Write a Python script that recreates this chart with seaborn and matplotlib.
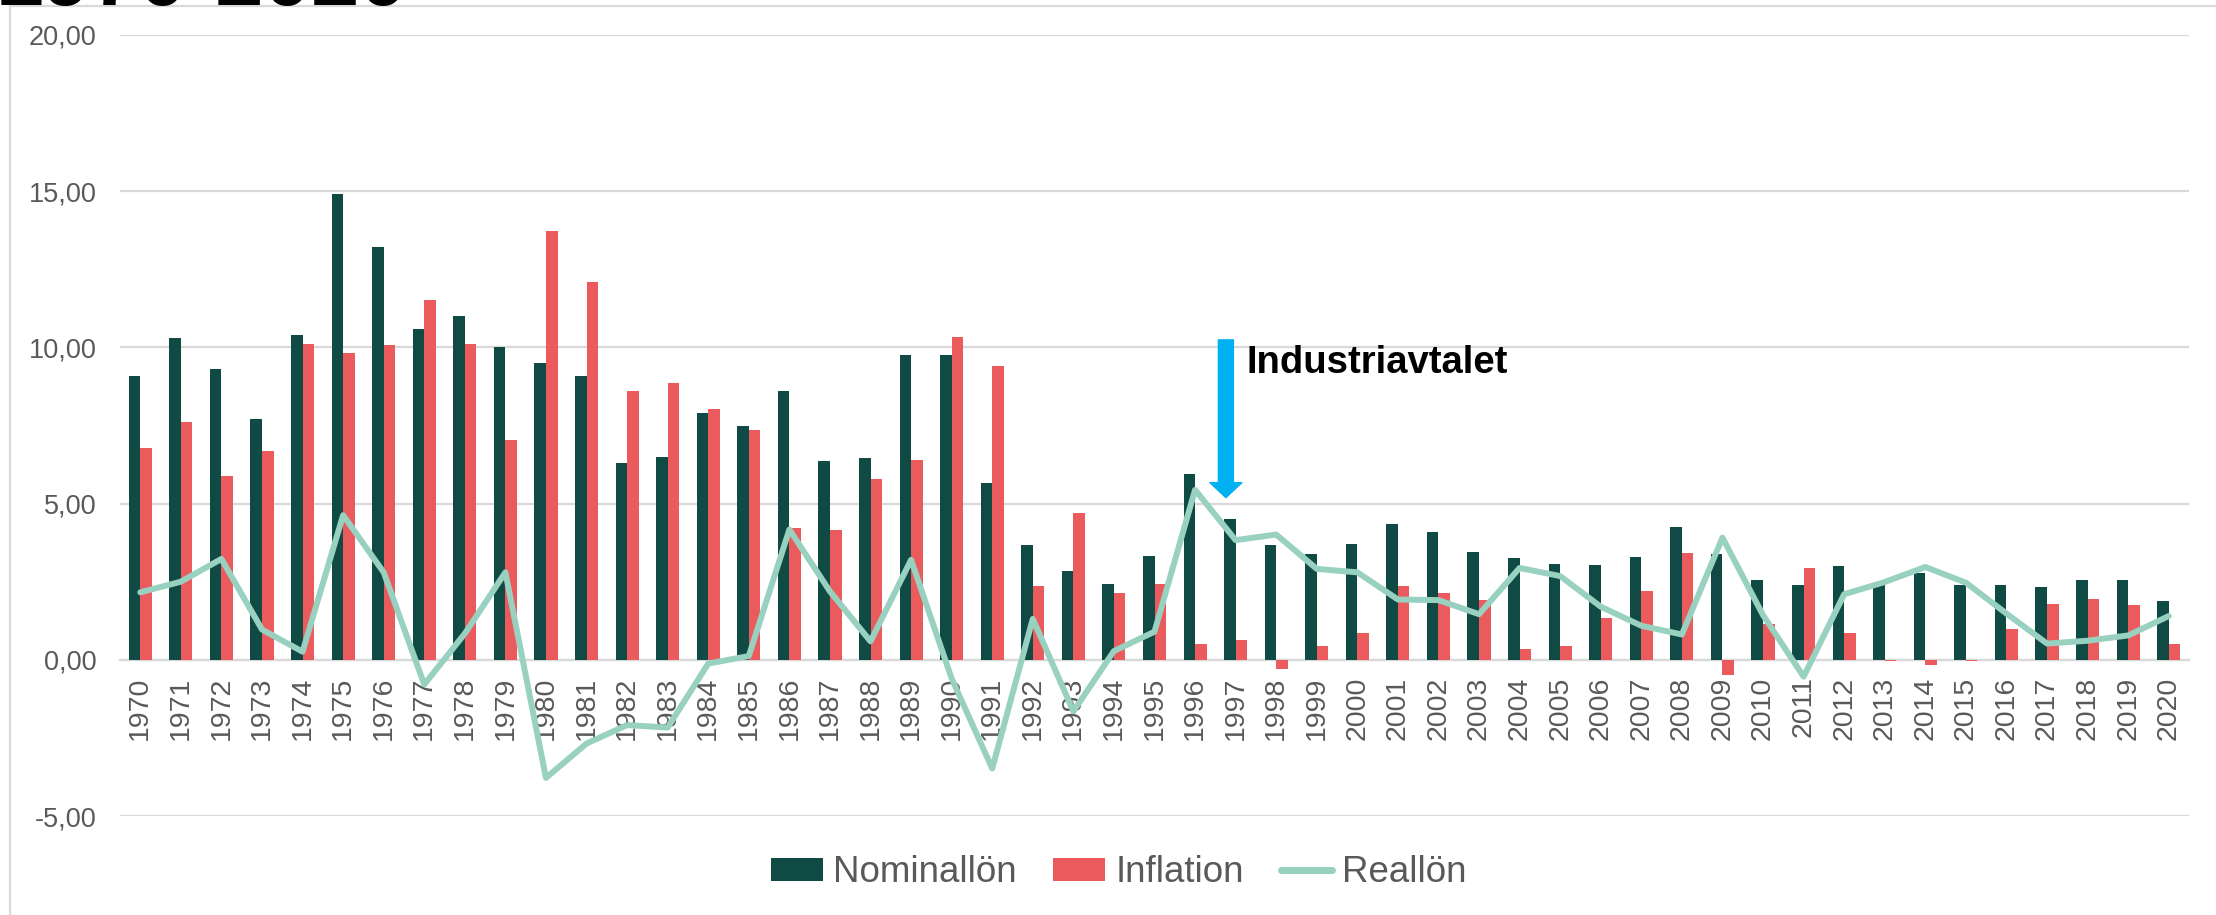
import numpy as np
import pandas as pd
import matplotlib
matplotlib.use("Agg")
import matplotlib.pyplot as plt
import seaborn as sns
from matplotlib.patches import Patch, Rectangle, FancyArrowPatch
from matplotlib.lines import Line2D
from matplotlib.ticker import FuncFormatter, MultipleLocator

# ---------------- data ----------------
years = [str(y) for y in range(1970, 2021)]

nominal = [9.10, 10.30, 9.31, 7.70, 10.39, 14.90, 13.20, 10.60, 11.00, 10.00,
           9.51, 9.10, 6.29, 6.49, 7.90, 7.49, 8.59, 6.37, 6.46, 9.75,
           9.75, 5.67, 3.67, 2.85, 2.42, 3.32, 5.96, 4.52, 3.69, 3.40,
           3.72, 4.36, 4.08, 3.44, 3.27, 3.08, 3.05, 3.29, 4.26, 3.40,
           2.55, 2.40, 2.99, 2.44, 2.77, 2.40, 2.39, 2.32, 2.54, 2.54,
           1.89]

inflation = [6.78, 7.61, 5.89, 6.67, 10.11, 9.81, 10.09, 11.51, 10.10, 7.03,
             13.74, 12.09, 8.59, 8.86, 8.02, 7.36, 4.22, 4.16, 5.80, 6.41,
             10.34, 9.42, 2.35, 4.71, 2.14, 2.43, 0.50, 0.64, -0.28, 0.44,
             0.87, 2.37, 2.14, 1.90, 0.36, 0.44, 1.34, 2.20, 3.42, -0.49,
             1.14, 2.94, 0.87, -0.05, -0.18, -0.05, 0.97, 1.78, 1.94, 1.77,
             0.49]

real = [2.16, 2.50, 3.23, 0.97, 0.26, 4.63, 2.80, -0.79, 0.84, 2.80,
        -3.78, -2.68, -2.09, -2.17, -0.12, 0.12, 4.17, 2.19, 0.59, 3.20,
        -0.60, -3.48, 1.31, -1.65, 0.28, 0.90, 5.44, 3.83, 4.01, 2.91,
        2.80, 1.93, 1.91, 1.46, 2.94, 2.68, 1.70, 1.09, 0.81, 3.91,
        1.43, -0.54, 2.10, 2.49, 2.97, 2.47, 1.48, 0.52, 0.61, 0.78,
        1.40]

series_names = ["Nominallön", "Inflation", "Reallön"]
annotation_text = "Industriavtalet"
title_text = "1970-2020"

# ---------------- style ----------------
DARK = "#0F4A45"
RED = "#EB5A5C"
MINT = "#98D1BF"
BLUE = "#00B0F0"
GRAY_TXT = "#595959"
GRID = "#D9D9D9"

sns.set_theme(style="white")
plt.rcParams["font.family"] = ["Liberation Sans", "DejaVu Sans"]

W, H = 2216, 915
fig = plt.figure(figsize=(W / 100, H / 100), dpi=100)
fig.patch.set_facecolor("white")

ax_left, ax_right, ax_top, ax_bottom = 120, 2189, 35, 816
ax = fig.add_axes([ax_left / W, (H - ax_bottom) / H,
                   (ax_right - ax_left) / W, (ax_bottom - ax_top) / H])

df = pd.DataFrame({"År": years, series_names[0]: nominal, series_names[1]: inflation})
df_long = df.melt(id_vars="År", var_name="Serie", value_name="Procent")

sns.barplot(data=df_long, x="År", y="Procent", hue="Serie",
            hue_order=series_names[:2], palette=[DARK, RED],
            width=0.57, saturation=1, linewidth=0, ax=ax, legend=False,
            zorder=2)

sns.lineplot(x=np.arange(len(years)), y=real, color=MINT, linewidth=4.3,
             ax=ax, legend=False, zorder=3)

ax.set_xlim(-0.5, len(years) - 0.5)
ax.set_ylim(-5, 20)
ax.yaxis.set_major_locator(MultipleLocator(5))
ax.yaxis.set_major_formatter(FuncFormatter(lambda v, p: f"{v:.2f}".replace(".", ",")))
ax.set_xlabel("")
ax.set_ylabel("")
ax.grid(False)
ax.yaxis.grid(True, color=GRID, linewidth=1.6)
ax.set_axisbelow(True)
for name, s in ax.spines.items():
    s.set_visible(False)
# category axis crosses at zero, as in the original
ax.spines["bottom"].set_position(("data", 0))
ax.spines["bottom"].set_visible(True)
ax.spines["bottom"].set_color(GRID)
ax.spines["bottom"].set_linewidth(1.6)
ax.spines["bottom"].set_zorder(1)
ax.tick_params(axis="y", length=0, pad=17, labelsize=19.5, labelcolor=GRAY_TXT)
ax.tick_params(axis="x", length=0, pad=12, labelsize=20.5, labelcolor=GRAY_TXT,
               labelrotation=90)

# ---------------- annotation ----------------
arrow_x = 26.76
arrow = FancyArrowPatch((arrow_x, 10.24), (arrow_x, 5.19),
                        arrowstyle="simple,head_length=0.47,head_width=1.0,tail_width=0.47",
                        mutation_scale=23, color=BLUE, shrinkA=0, shrinkB=0, zorder=4)
ax.add_patch(arrow)
ax.text(27.28, 9.19, annotation_text, fontsize=27.5, fontweight="bold",
        color="black", ha="left", va="baseline", zorder=4)

# ---------------- legend ----------------
handles = [Patch(facecolor=DARK, edgecolor="none"),
           Patch(facecolor=RED, edgecolor="none"),
           Line2D([0], [0], color=MINT, linewidth=5, solid_capstyle="round")]
fig.legend(handles, series_names, loc="center", bbox_to_anchor=(1119 / W, 42 / H),
           ncol=3, frameon=False, fontsize=26.5, handlelength=1.4,
           handleheight=0.55, handletextpad=0.28, columnspacing=1.0,
           labelcolor=GRAY_TXT)

# ---------------- frame & cut-off title ----------------
fig.add_artist(Rectangle((10 / W, -0.1), 1.5, (H - 6) / H + 0.1,
                         transform=fig.transFigure, fill=False,
                         edgecolor=GRID, linewidth=1.6, zorder=0))
fig.text(-4 / W, (H - 5) / H, title_text, fontsize=62, fontweight="bold",
         color="black", ha="left", va="baseline")

fig.savefig("out.png", dpi=100, facecolor="white")
